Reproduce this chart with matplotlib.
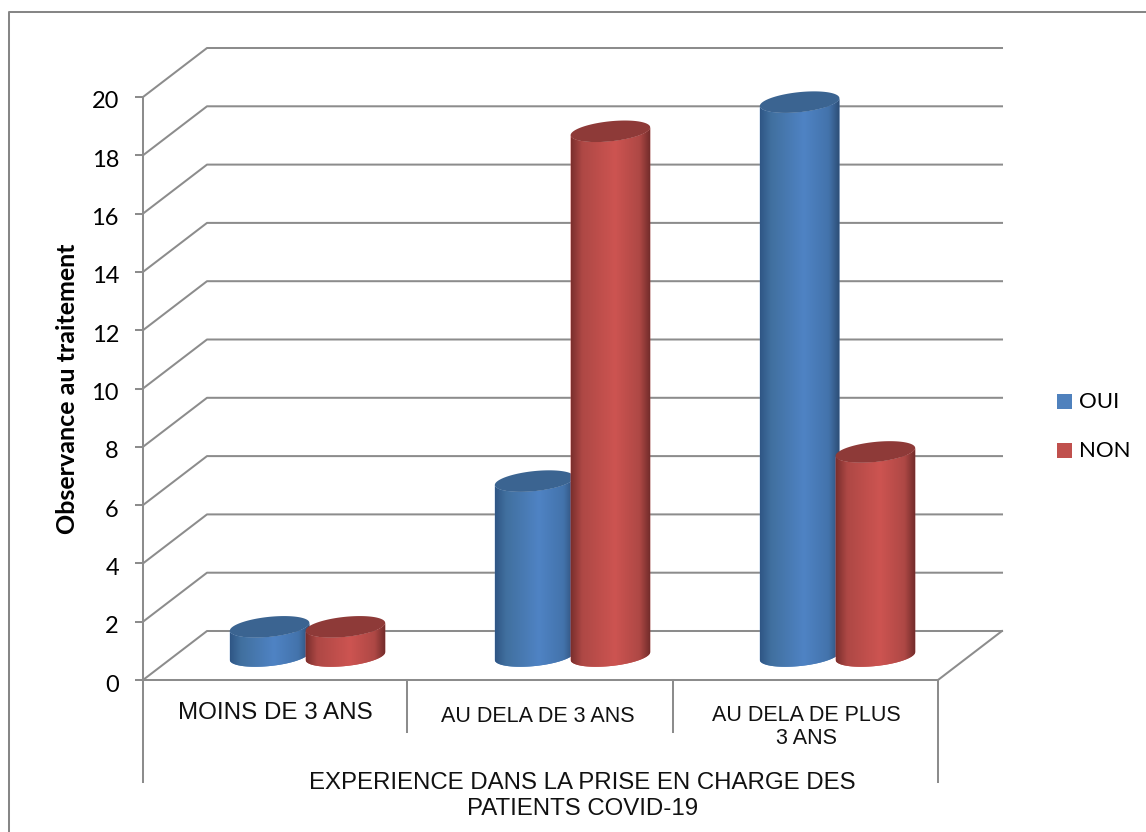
import matplotlib

matplotlib.use("Agg")
import matplotlib.pyplot as plt
import numpy as np
from matplotlib.colors import LinearSegmentedColormap
from matplotlib.patches import Polygon, Rectangle
from matplotlib.transforms import Affine2D, IdentityTransform

categories = ["MOINS DE 3 ANS", "AU DELA DE 3 ANS", "AU DELA DE PLUS\n3 ANS"]
oui = [1, 6, 19]
non = [1, 18, 7]
y_ticks = list(range(0, 21, 2))
x_title = "EXPERIENCE DANS LA PRISE EN CHARGE DES\nPATIENTS COVID-19"
y_title = "Observance au traitement"

W, H = 1146, 832
GREY = "#8c8c8c"
LW = 1.45
STOPS = [0, 0.14, 0.55, 0.86, 1]
BLUE = ["#2f5685", "#41709f", "#4f83c4", "#4373ab", "#2c4c74"]
RED = ["#7b2f2d", "#ae4845", "#cd5451", "#ae4845", "#6e2a29"]
BLUE_TOP = "#3b6491"
RED_TOP = "#8e3a38"

# depth of the 3d box in pixels, the bars stand half way in
DEPTH_X, DEPTH_Y = 64, 49
BAR_DX, BAR_DY = 32, 24
BAR_A, BAR_B, BAR_TILT = 40, 10, np.radians(6)

px = Affine2D().scale(1, -1).translate(0, H)  # image pixels, y down

fig = plt.figure(figsize=(W / 100, H / 100), dpi=100)
ax = fig.add_axes([143 / W, (H - 680) / H, (938 - 143) / W, (680 - 97) / H])
ax.set_xlim(0, 3)
ax.set_ylim(0, 20)
ax.set_autoscale_on(False)
ax.patch.set_alpha(0)
for side in ["top", "right", "bottom"]:
    ax.spines[side].set_visible(False)
ax.spines["left"].set_color(GREY)
ax.spines["left"].set_linewidth(LW)
ax.set_xticks([])
ax.set_yticks(y_ticks)
ax.tick_params(axis="y", length=5.8, width=LW, color=GREY, pad=11.5, labelsize=17)
for lab in ax.get_yticklabels():
    lab.set_family("Lato")
    lab.set_transform(lab.get_transform() + Affine2D().translate(0, -3))

back = ax.transData + Affine2D().translate(DEPTH_X, DEPTH_Y)
bars = ax.transData + Affine2D().translate(BAR_DX, BAR_DY)

# walls and floor
for v in y_ticks:
    p0 = ax.transData.transform((0, v))
    p1 = back.transform((0, v))
    p2 = back.transform((3, v))
    ax.plot([p0[0], p1[0], p2[0]], [p0[1], p1[1], p2[1]], color=GREY, lw=LW,
            transform=IdentityTransform(), clip_on=False, zorder=1)
p0 = ax.transData.transform((0, 0))
p1 = ax.transData.transform((3, 0))
p2 = back.transform((3, 0))
ax.plot([p0[0], p1[0], p2[0]], [p0[1], p1[1], p2[1]], color=GREY, lw=LW,
        transform=IdentityTransform(), clip_on=False, zorder=1)


def ellipse(c, t):
    x = BAR_A * np.cos(t) * np.cos(BAR_TILT) - BAR_B * np.sin(t) * np.sin(BAR_TILT)
    y = BAR_A * np.cos(t) * np.sin(BAR_TILT) + BAR_B * np.sin(t) * np.cos(BAR_TILT)
    return np.column_stack([c[0] + x, c[1] + y])


def cylinder(xc, value, colors, top_color, z):
    base = bars.transform((xc, 0))
    top = bars.transform((xc, value))
    t0 = np.arctan2(-BAR_B * np.sin(BAR_TILT), BAR_A * np.cos(BAR_TILT))
    lower = ellipse(base, np.linspace(t0 - np.pi, t0, 60))
    upper = ellipse(top, np.linspace(t0, t0 - np.pi, 60))
    body = Polygon(np.vstack([lower, upper]), closed=True, transform=IdentityTransform(),
                   facecolor=colors[2], edgecolor="none", zorder=z)
    ax.add_patch(body)
    body.set_clip_on(False)
    cmap = LinearSegmentedColormap.from_list("cyl", list(zip(STOPS, colors)))
    grad = np.linspace(0, 1, 256).reshape(1, -1)
    xl, xr = lower[:, 0].min(), lower[:, 0].max()
    yb, yt = lower[:, 1].min(), upper[:, 1].max()
    im = ax.imshow(grad, cmap=cmap, aspect="auto", extent=(xl, xr, yb, yt),
                   transform=IdentityTransform(), interpolation="bilinear", zorder=z)
    im.set_clip_path(body)
    cap = Polygon(ellipse(top, np.linspace(0, 2 * np.pi, 120)), closed=True,
                  transform=IdentityTransform(), facecolor=top_color, edgecolor="none",
                  zorder=z + 0.1, clip_on=False)
    ax.add_patch(cap)


for i in range(len(categories)):
    cylinder(i + 0.5 - 0.143, oui[i], BLUE, BLUE_TOP, 3 + i)
    cylinder(i + 0.5 + 0.143, non[i], RED, RED_TOP, 3.5 + i)

# outer frame, category axis
fig.add_artist(plt.Line2D([9, 9, W], [H, 12, 12], color="#868686", lw=LW, transform=px))
for x, bottom in [(143, 782), (407, 732), (673, 732), (938, 782)]:
    fig.add_artist(plt.Line2D([x, x], [680, bottom], color=GREY, lw=LW, transform=px))

cat_pos = [(275, 713, 17.4), (538, 716, 15.5), (806, 727, 15.5)]
for name, (x, y, size) in zip(categories, cat_pos):
    fig.text(x, y, name, transform=px, family="Liberation Sans", fontsize=size,
             ha="center", va="center", color="#111111", linespacing=1.15)
fig.text(582.5, 796, x_title, transform=px, family="Liberation Sans", fontsize=17.3,
         ha="center", va="center", color="#111111", linespacing=1.2)
fig.text(68, 389, y_title, transform=px, family="Lato", fontsize=18, fontweight="bold",
         rotation=90, ha="center", va="center", color="black")

# legend
for y, color, name in [(394, "#4f81bd", "OUI"), (443, "#c0504d", "NON")]:
    fig.add_artist(Rectangle((1057, y), 15, 15, facecolor=color, edgecolor="none", transform=px))
    fig.text(1079, y + 8, name, transform=px, family="Lato", fontsize=16, ha="left", va="center")

fig.savefig("out.png", dpi=100)
